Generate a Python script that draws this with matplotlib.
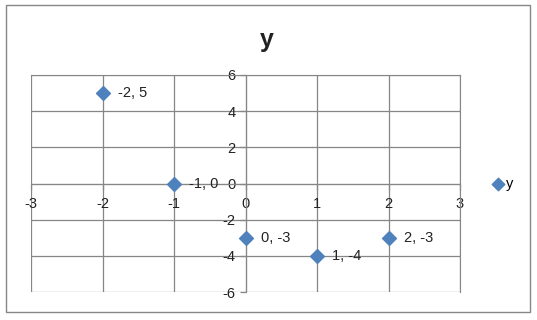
import matplotlib.pyplot as plt
from matplotlib.patches import Rectangle

plt.rcParams['font.family'] = ['Liberation Sans', 'DejaVu Sans']
plt.rcParams['axes.unicode_minus'] = False

x_values = [-2, -1, 0, 1, 2]
y_values = [5, 0, -3, -4, -3]
x_ticks = [-3, -2, -1, 0, 1, 2, 3]
y_ticks = [-6, -4, -2, 0, 2, 4, 6]
series_name = "y"
title = "y"

blue = "#4F81BD"
grey = "#868686"

fig = plt.figure(figsize=(5.37, 3.2), dpi=100)
ax = fig.add_axes([31 / 537, 1 - 292 / 320, 429 / 537, 217 / 320])

# outer chart border
fig.patches.append(Rectangle((6 / 537, 1 - 312 / 320), 524 / 537, 307 / 320,
                             transform=fig.transFigure, fill=False,
                             edgecolor=grey, linewidth=1))

ax.scatter(x_values, y_values, marker="D", s=50, color=blue, zorder=3,
           label=series_name, clip_on=False)
for xv, yv in zip(x_values, y_values):
    ax.annotate(f"{xv}, {yv}", (xv, yv), xytext=(11, 0), textcoords="offset points",
                va="center", ha="left", fontsize=10.5, color="#222222")

ax.set_xlim(-3, 3)
ax.set_ylim(-6, 6)
ax.set_xticks(x_ticks)
ax.set_yticks(y_ticks)
ax.grid(True, color=grey, linewidth=0.9)
ax.set_axisbelow(True)

for side in ["top", "right"]:
    ax.spines[side].set_color(grey)
ax.spines["left"].set_position(("data", 0))
ax.spines["bottom"].set_position(("data", 0))
ax.spines["left"].set_color(grey)
ax.spines["bottom"].set_color(grey)
ax.tick_params(colors=grey, length=4, width=0.9, labelsize=10.5, labelcolor="#222222")
ax.tick_params(axis="x", pad=6)
ax.tick_params(axis="y", pad=3)

fig.text(267 / 537, 1 - 40 / 320, title, ha="center", va="center",
         fontsize=18, fontweight="bold", color="#222222")

fig.legend(loc="center left", bbox_to_anchor=(483 / 537, 1 - 184 / 320),
           frameon=False, fontsize=10.5, handletextpad=0.1, borderpad=0,
           markerscale=0.9, handlelength=1.0)

fig.savefig("out.png", dpi=100)
